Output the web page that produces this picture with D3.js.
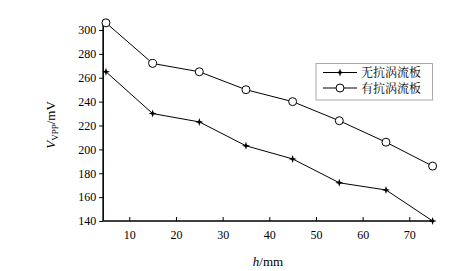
<!DOCTYPE html>
<html>
<head>
<meta charset="utf-8">
<script src="https://cdn.jsdelivr.net/npm/d3@7"></script>
<style>
body { margin: 0; background: #fff; }
svg text { font-family: "Liberation Serif", "Times New Roman", serif; }
</style>
</head>
<body>
<script>
const width = 472
const height = 271

const h = [5, 15, 25, 35, 45, 55, 65, 75]
const withoutPlate = [265, 230, 223, 203, 192, 172, 166, 140]
const withPlate = [306, 272, 265, 250, 240, 224, 206, 186]
const xTicks = [10, 20, 30, 40, 50, 60, 70]
const yTicks = [140, 160, 180, 200, 220, 240, 260, 280, 300]
const seriesNames = ['无抗涡流板', '有抗涡流板']

const svg = d3.select('body').append('svg')
  .attr('width', width)
  .attr('height', height)

const x = d3.scaleLinear().domain([10, 70]).range([129.3, 409.3])
const y = d3.scaleLinear().domain([140, 300]).range([221, 30])
const x0 = x(4.4)

// axes
const xAxis = svg.append('g')
  .attr('transform', `translate(0,${y(140)})`)
  .call(d3.axisBottom(x).tickValues(xTicks).tickSizeInner(-4).tickSizeOuter(0).tickPadding(9))
xAxis.select('.domain').remove()
xAxis.selectAll('text').attr('font-size', 12).attr('fill', '#000')

const yAxis = svg.append('g')
  .attr('transform', `translate(${x0},0)`)
  .call(d3.axisLeft(y).tickValues(yTicks).tickSizeInner(4).tickSizeOuter(0).tickPadding(3))
yAxis.select('.domain').remove()
yAxis.selectAll('text').attr('font-size', 12).attr('fill', '#000')

svg.append('line')
  .attr('x1', x0).attr('x2', x(75.3))
  .attr('y1', y(140)).attr('y2', y(140))
  .attr('stroke', '#000').attr('stroke-width', 1.6)
svg.append('line')
  .attr('x1', x0).attr('x2', x0)
  .attr('y1', y(140)).attr('y2', y(308.5))
  .attr('stroke', '#000').attr('stroke-width', 1.6)

// lines
const line = d3.line().x((d, i) => x(h[i])).y(d => y(d))
svg.append('path').datum(withoutPlate).attr('d', line)
  .attr('fill', 'none').attr('stroke', '#000').attr('stroke-width', 1)
svg.append('path').datum(withPlate).attr('d', line)
  .attr('fill', 'none').attr('stroke', '#000').attr('stroke-width', 1)

// four point star marker
const star = 'M0,-4L1,-1L4,0L1,1L0,4L-1,1L-4,0L-1,-1Z'
svg.append('g').selectAll('path')
  .data(withoutPlate)
  .enter().append('path')
    .attr('d', star)
    .attr('transform', (d, i) => `translate(${x(h[i])},${y(d)})`)
    .attr('fill', '#000')

svg.append('g').selectAll('circle')
  .data(withPlate)
  .enter().append('circle')
    .attr('cx', (d, i) => x(h[i]))
    .attr('cy', d => y(d))
    .attr('r', 4)
    .attr('fill', '#fff')
    .attr('stroke', '#000')
    .attr('stroke-width', 1)

// legend
const legend = svg.append('g')
legend.append('rect')
  .attr('x', 316).attr('y', 63.5).attr('width', 116.5).attr('height', 36.5)
  .attr('fill', '#fff').attr('stroke', '#aaa').attr('stroke-width', 1)
seriesNames.forEach((name, i) => {
  const ly = 72.5 + i * 15.5
  legend.append('line')
    .attr('x1', 323).attr('x2', 357).attr('y1', ly).attr('y2', ly)
    .attr('stroke', '#000').attr('stroke-width', 1)
  if (i === 0) {
    legend.append('path').attr('d', star).attr('transform', `translate(340,${ly})`).attr('fill', '#000')
  } else {
    legend.append('circle').attr('cx', 340).attr('cy', ly).attr('r', 4)
      .attr('fill', '#fff').attr('stroke', '#000')
  }
  legend.append('text')
    .attr('x', 361).attr('y', ly + 4.5)
    .attr('font-size', 12)
    .style('font-family', '"Noto Serif CJK SC", "Noto Sans CJK SC", serif')
    .text(name)
})

// axis titles
const yl = svg.append('text')
  .attr('transform', `translate(55,125) rotate(-90)`)
  .attr('text-anchor', 'middle')
  .attr('font-size', 13)
yl.append('tspan').attr('font-style', 'italic').text('V')
yl.append('tspan').attr('font-size', 9).attr('dy', 3).text('VPP')
yl.append('tspan').attr('dy', -3).text('/mV')

const xl = svg.append('text')
  .attr('x', 268).attr('y', 266)
  .attr('text-anchor', 'middle')
  .attr('font-size', 13)
xl.append('tspan').attr('font-style', 'italic').text('h')
xl.append('tspan').text('/mm')
</script>
</body>
</html>
